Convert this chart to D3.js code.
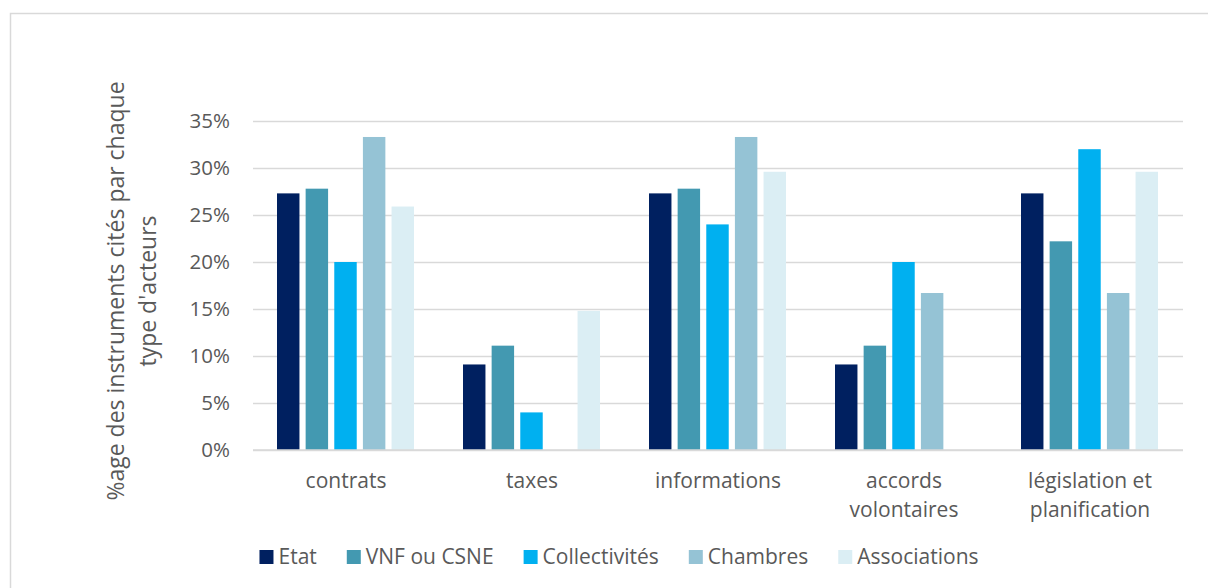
<!DOCTYPE html>
<html>
<head>
<meta charset="utf-8">
<script src="https://cdn.jsdelivr.net/npm/d3@7"></script>
<style>
  body { margin: 0; background: #fff; }
  text { font-family: "Open Sans", sans-serif; fill: #595959; }
</style>
</head>
<body>
<div id="chart"></div>
<script>
// Data
const categories = [["contrats"], ["taxes"], ["informations"], ["accords", "volontaires"], ["législation et", "planification"]];
const series = ["Etat", "VNF ou CSNE", "Collectivités", "Chambres", "Associations"];
const colors = ["#002060", "#4399B1", "#00B0F0", "#95C3D5", "#DBEEF4"];
const etat = [27.3, 9.1, 27.3, 9.1, 27.3];
const vnf = [27.8, 11.1, 27.8, 11.1, 22.2];
const collectivites = [20.0, 4.0, 24.0, 20.0, 32.0];
const chambres = [33.3, 0, 33.3, 16.7, 16.7];
const associations = [25.9, 14.8, 29.6, 0, 29.6];
const yTicks = [0, 5, 10, 15, 20, 25, 30, 35];

const values = [etat, vnf, collectivites, chambres, associations];
const catKeys = categories.map(c => c.join(" "));

// Set up the dimensions
const W = 1208, H = 588;
const plot = {left: 253, right: 1183, top: 121, bottom: 450};

const svg = d3.select("#chart")
    .append("svg")
    .attr("width", W)
    .attr("height", H);

// Chart frame (only top and left visible)
svg.append("rect")
    .attr("x", 10.5)
    .attr("y", 13.5)
    .attr("width", W + 20)
    .attr("height", H + 20)
    .attr("fill", "none")
    .attr("stroke", "#d9d9d9")
    .attr("stroke-width", 1.5);

// Scales
const x0 = d3.scaleBand()
    .domain(catKeys)
    .range([plot.left, plot.right])
    .padding(0);

const x1 = d3.scaleBand()
    .domain(series)
    .range([24, 161])
    .paddingInner(0.216)
    .paddingOuter(0);

const y = d3.scaleLinear()
    .domain([0, 35])
    .range([plot.bottom, plot.top]);

// Horizontal gridlines
svg.append("g")
    .attr("class", "grid")
    .attr("transform", `translate(${plot.left}, 0)`)
    .call(d3.axisLeft(y)
        .tickValues(yTicks)
        .tickSize(-(plot.right - plot.left))
        .tickFormat(""))
    .call(g => g.select(".domain").remove())
    .selectAll(".tick line")
    .attr("stroke", "#d9d9d9")
    .attr("stroke-width", 1.5);

// Y tick labels
svg.append("g")
    .attr("transform", `translate(${plot.left}, 0)`)
    .call(d3.axisLeft(y)
        .tickValues(yTicks)
        .tickSize(0)
        .tickPadding(23)
        .tickFormat(d => d + "%"))
    .call(g => g.select(".domain").remove())
    .selectAll(".tick text")
    .style("font-size", "20.5px")
    .style("fill", "#595959")
    .style("font-family", "'Open Sans', sans-serif");

// Bars
const groups = svg.append("g")
    .selectAll("g")
    .data(catKeys)
    .enter()
    .append("g")
    .attr("transform", d => `translate(${x0(d)}, 0)`);

groups.selectAll("rect")
    .data((d, i) => series.map((s, j) => ({s: s, v: values[j][i], c: colors[j]})))
    .enter()
    .append("rect")
    .attr("x", d => x1(d.s))
    .attr("y", d => y(d.v))
    .attr("width", x1.bandwidth())
    .attr("height", d => y(0) - y(d.v))
    .attr("fill", d => d.c);

// X axis line
svg.append("line")
    .attr("x1", plot.left)
    .attr("x2", plot.right)
    .attr("y1", y(0))
    .attr("y2", y(0))
    .attr("stroke", "#d9d9d9")
    .attr("stroke-width", 1.5);

// Category labels
categories.forEach((lines, i) => {
    const t = svg.append("text")
        .attr("x", x0(catKeys[i]) + x0.bandwidth() / 2)
        .attr("y", 488)
        .attr("text-anchor", "middle")
        .style("font-size", "21px");
    lines.forEach((l, k) => {
        t.append("tspan")
            .attr("x", x0(catKeys[i]) + x0.bandwidth() / 2)
            .attr("dy", k === 0 ? 0 : 29)
            .text(l);
    });
});

// Y axis title
const yTitle = ["%age des instruments cités par chaque", "type d'acteurs"];
yTitle.forEach((l, k) => {
    svg.append("text")
        .attr("transform", `translate(${124 + k * 32}, 291) rotate(-90)`)
        .attr("text-anchor", "middle")
        .style("font-size", "23px")
        .text(l);
});

// Legend
const legend = svg.append("g");
let lx = 0;
series.forEach((s, i) => {
    const item = legend.append("g").attr("transform", `translate(${lx}, 0)`);
    item.append("rect")
        .attr("x", 0)
        .attr("y", 550)
        .attr("width", 14)
        .attr("height", 14)
        .attr("fill", colors[i]);
    const t = item.append("text")
        .attr("x", 19)
        .attr("y", 564)
        .style("font-size", "21px")
        .text(s);
    lx += 19 + t.node().getComputedTextLength() + 30;
});
const legendWidth = lx - 30;
legend.attr("transform", `translate(${619 - legendWidth / 2}, 0)`);
</script>
</body>
</html>
